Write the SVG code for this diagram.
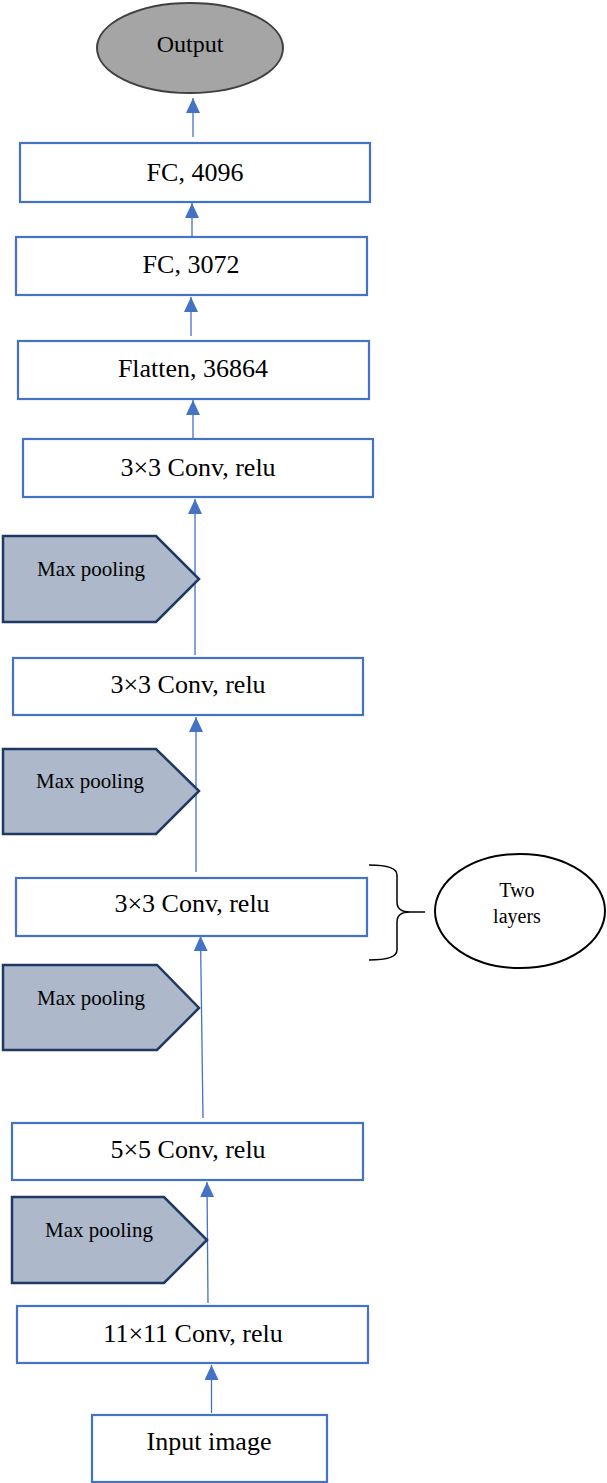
<svg xmlns="http://www.w3.org/2000/svg" width="607" height="1483" viewBox="0 0 607 1483">
<style>
.box{fill:#ffffff;stroke:#4472c4;stroke-width:2.2}
.pool{fill:#adb9ca;stroke:#1f3864;stroke-width:2.5;stroke-linejoin:miter}
.t{font-family:"Liberation Serif","Times New Roman",serif;fill:#000;text-anchor:middle}
.bt{font-size:26px}
.pt{font-size:21px}
.conn{stroke:#4472c4;stroke-width:1.3;fill:none}
</style>
<defs>
<marker id="ah" viewBox="0 0 15 14" refX="15" refY="7" markerWidth="15" markerHeight="14" markerUnits="userSpaceOnUse" orient="auto">
<path d="M0,0 L15,7 L0,14 Z" fill="#4472c4"/>
</marker>
</defs>
<rect width="607" height="1483" fill="#ffffff"/>

<g id="connectors">
<line class="conn" x1="193" y1="137" x2="193" y2="98" marker-end="url(#ah)"/>
<line class="conn" x1="192" y1="240" x2="192" y2="203" marker-end="url(#ah)"/>
<line class="conn" x1="191" y1="336" x2="191" y2="297" marker-end="url(#ah)"/>
<line class="conn" x1="193" y1="438" x2="193" y2="400" marker-end="url(#ah)"/>
<line class="conn" x1="195" y1="655" x2="195" y2="499" marker-end="url(#ah)"/>
<line class="conn" x1="196" y1="872" x2="196" y2="717" marker-end="url(#ah)"/>
<line class="conn" x1="203" y1="1118" x2="200.5" y2="936" marker-end="url(#ah)"/>
<line class="conn" x1="208" y1="1303" x2="207" y2="1182" marker-end="url(#ah)"/>
<line class="conn" x1="211.5" y1="1413" x2="211.5" y2="1365" marker-end="url(#ah)"/>
</g>

<g id="output">
<ellipse cx="190" cy="48" rx="93" ry="45" fill="#a5a5a5" stroke="#404040" stroke-width="2"/>
<text class="t" x="190" y="52" font-size="24">Output</text>
</g>

<g id="fc4096">
<rect class="box" x="20" y="143" width="350" height="59"/>
<text class="t bt" x="195" y="181">FC, 4096</text>
</g>

<g id="fc3072">
<rect class="box" x="16" y="237" width="351" height="58"/>
<text class="t bt" x="191" y="273">FC, 3072</text>
</g>

<g id="flatten">
<rect class="box" x="18" y="341" width="351" height="58"/>
<text class="t bt" x="193" y="377">Flatten, 36864</text>
</g>

<g id="conv3a">
<rect class="box" x="23" y="439" width="350" height="58"/>
<text class="t bt" x="198" y="476">3×3 Conv, relu</text>
</g>

<g id="pool1">
<path class="pool" d="M3,536 L156,536 L199,579 L156,622 L3,622 Z"/>
<text class="t pt" x="91" y="576">Max pooling</text>
</g>

<g id="conv3b">
<rect class="box" x="13" y="658" width="350" height="57"/>
<text class="t bt" x="188" y="693">3×3 Conv, relu</text>
</g>

<g id="pool2">
<path class="pool" d="M3,749 L156,749 L199,791 L156,834 L3,834 Z"/>
<text class="t pt" x="90" y="788">Max pooling</text>
</g>

<g id="conv3c">
<rect class="box" x="16" y="878" width="351" height="58"/>
<text class="t bt" x="192" y="912">3×3 Conv, relu</text>
</g>

<g id="brace">
<path d="M369,865 Q397,865 397,875 L397,902 Q397,912 410,912 L425,912 M410,912 Q397,912 397,922 L397,950 Q397,960 369,960" fill="none" stroke="#000" stroke-width="1.5"/>
</g>

<g id="twolayers">
<ellipse cx="520" cy="911" rx="85" ry="57" fill="#ffffff" stroke="#000" stroke-width="2"/>
<text class="t" x="517" y="897" font-size="20">Two</text>
<text class="t" x="517" y="923" font-size="20">layers</text>
</g>

<g id="pool3">
<path class="pool" d="M3,965 L157,965 L199,1008 L157,1050 L3,1050 Z"/>
<text class="t pt" x="91" y="1005">Max pooling</text>
</g>

<g id="conv5">
<rect class="box" x="12" y="1123" width="351" height="57"/>
<text class="t bt" x="188" y="1158">5×5 Conv, relu</text>
</g>

<g id="pool4">
<path class="pool" d="M12,1197 L164,1197 L207,1240 L164,1283 L12,1283 Z"/>
<text class="t pt" x="99" y="1237">Max pooling</text>
</g>

<g id="conv11">
<rect class="box" x="17" y="1306" width="351" height="57"/>
<text class="t bt" x="193" y="1342">11×11 Conv, relu</text>
</g>

<g id="input">
<rect class="box" x="92" y="1415" width="235" height="67"/>
<text class="t bt" x="209" y="1450">Input image</text>
</g>
</svg>
